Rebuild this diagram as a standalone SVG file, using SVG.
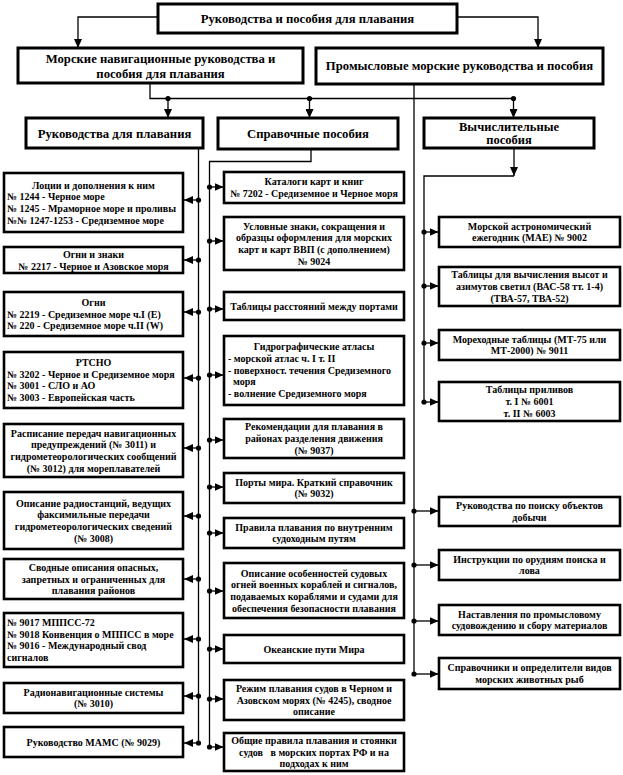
<svg xmlns="http://www.w3.org/2000/svg" width="623" height="775" viewBox="0 0 623 775">
<defs>
<marker id="arr" markerUnits="userSpaceOnUse" markerWidth="9" markerHeight="8" refX="9" refY="4" orient="auto">
<path d="M0,0 L9,4 L0,8 z" fill="#000"/>
</marker>
<style>
.b{fill:#fff;stroke:#000;stroke-width:2.6}
.h{fill:#fff;stroke:#000;stroke-width:3}
text{font-family:"Liberation Serif","Times New Roman",serif;font-weight:bold;fill:#000}
.t{font-size:12.7px;text-anchor:middle}
.s{font-size:10px}
.c{text-anchor:middle}
.l{text-anchor:start}
.ln{fill:none;stroke:#000;stroke-width:1.3}
.d{fill:#000}
</style>
</defs>
<rect width="623" height="775" fill="#fff"/>

<g id="connectors">
<path class="ln" d="M158,17 H78 V48" marker-end="url(#arr)"/>
<path class="ln" d="M457,17 H538 V48" marker-end="url(#arr)"/>
<path class="ln" d="M150,83 V98.5 H513.5"/>
<path class="ln" d="M168,98.5 V118" marker-end="url(#arr)"/>
<path class="ln" d="M309.5,98.5 V118" marker-end="url(#arr)"/>
<path class="ln" d="M513.5,98.5 V118" marker-end="url(#arr)"/>
<circle class="d" cx="168" cy="98.5" r="2.6"/>
<circle class="d" cx="309.5" cy="98.5" r="2.6"/>
<circle class="d" cx="513.5" cy="98.5" r="2.6"/>
<!-- left column -->
<path class="ln" d="M198.5,148 V743"/>
<g class="ln" marker-end="url(#arr)">
<path d="M198.5,200 H184"/>
<path d="M198.5,260 H184"/>
<path d="M198.5,312 H184"/>
<path d="M198.5,378 H184"/>
<path d="M198.5,448 H184"/>
<path d="M198.5,516 H184"/>
<path d="M198.5,579 H184"/>
<path d="M198.5,639 H184"/>
<path d="M198.5,696 H184"/>
<path d="M198.5,743 H184"/>
</g>
<g class="d">
<circle cx="198.5" cy="200" r="2.6"/><circle cx="198.5" cy="260" r="2.6"/><circle cx="198.5" cy="312" r="2.6"/><circle cx="198.5" cy="378" r="2.6"/><circle cx="198.5" cy="448" r="2.6"/><circle cx="198.5" cy="516" r="2.6"/><circle cx="198.5" cy="579" r="2.6"/><circle cx="198.5" cy="639" r="2.6"/><circle cx="198.5" cy="696" r="2.6"/><circle cx="198.5" cy="743" r="2.6"/>
</g>
<!-- middle column -->
<path class="ln" d="M311,149 V161.5 H209.5 V747"/>
<g class="ln" marker-end="url(#arr)">
<path d="M209.5,187 H223.5"/>
<path d="M209.5,241 H223.5"/>
<path d="M209.5,309 H223.5"/>
<path d="M209.5,375 H223.5"/>
<path d="M209.5,440 H223.5"/>
<path d="M209.5,487 H223.5"/>
<path d="M209.5,533 H223.5"/>
<path d="M209.5,591 H223.5"/>
<path d="M209.5,649 H223.5"/>
<path d="M209.5,699 H223.5"/>
<path d="M209.5,747 H223.5"/>
</g>
<g class="d">
<circle cx="209.5" cy="187" r="2.6"/><circle cx="209.5" cy="241" r="2.6"/><circle cx="209.5" cy="309" r="2.6"/><circle cx="209.5" cy="375" r="2.6"/><circle cx="209.5" cy="440" r="2.6"/><circle cx="209.5" cy="487" r="2.6"/><circle cx="209.5" cy="533" r="2.6"/><circle cx="209.5" cy="591" r="2.6"/><circle cx="209.5" cy="649" r="2.6"/><circle cx="209.5" cy="699" r="2.6"/><circle cx="209.5" cy="747" r="2.6"/>
</g>
<!-- computational -->
<path class="ln" d="M514,148 V176" marker-end="url(#arr)"/>
<path class="ln" d="M514,176 H424 V402"/>
<g class="ln" marker-end="url(#arr)">
<path d="M424,232 H438.5"/>
<path d="M424,286 H438.5"/>
<path d="M424,343 H438.5"/>
<path d="M424,402 H438.5"/>
</g>
<g class="d">
<circle cx="424" cy="232" r="2.6"/><circle cx="424" cy="286" r="2.6"/><circle cx="424" cy="343" r="2.6"/><circle cx="424" cy="402" r="2.6"/>
</g>
<!-- fishing -->
<path class="ln" d="M414,84 V674"/>
<g class="ln" marker-end="url(#arr)">
<path d="M414,511 H438.5"/>
<path d="M414,565 H438.5"/>
<path d="M414,621 H438.5"/>
<path d="M414,674 H438.5"/>
</g>
<g class="d">
<circle cx="414" cy="511" r="2.6"/><circle cx="414" cy="565" r="2.6"/><circle cx="414" cy="621" r="2.6"/><circle cx="414" cy="674" r="2.6"/>
</g>
</g>

<!-- header nodes -->
<g id="n-root"><rect class="h" x="158" y="4" width="299" height="29"/><text class="t" x="307.5" y="23">Руководства и пособия для плавания</text></g>
<g id="n-nav"><rect class="h" x="18" y="48" width="285" height="35"/><text class="t" x="160.5" y="62.5">Морские навигационные руководства и</text><text class="t" x="160.5" y="77.5">пособия для плавания</text></g>
<g id="n-fish"><rect class="h" x="316" y="48" width="287" height="36"/><text class="t" x="459.5" y="70">Промысловые морские руководства и пособия</text></g>
<g id="n-guides"><rect class="h" x="26" y="118" width="177" height="30"/><text class="t" x="114.5" y="137.5">Руководства для плавания</text></g>
<g id="n-ref"><rect class="h" x="218" y="118" width="180" height="31"/><text class="t" x="308" y="138">Справочные пособия</text></g>
<g id="n-calc"><rect class="h" x="424" y="118" width="170" height="30"/><text class="t" x="509" y="131" style="font-size:12.5px">Вычислительные</text><text class="t" x="509" y="144" style="font-size:12.5px">пособия</text></g>

<!-- left column nodes -->
<g id="n-l1"><rect class="b" x="4" y="173" width="179" height="59"/>
<text class="s c" x="93.5" y="188.5">Лоции и дополнения к ним</text>
<text class="s l" x="7" y="200.2">№ 1244 - Черное море</text>
<text class="s l" x="7" y="211.9">№ 1245 - Мраморное море и проливы</text>
<text class="s l" x="7" y="223.6">№№ 1247-1253 - Средиземное море</text></g>
<g id="n-l2"><rect class="b" x="4" y="247" width="179" height="26"/>
<text class="s c" x="93.5" y="258">Огни и знаки</text>
<text class="s c" x="93.5" y="269.7">№ 2217 - Черное и Азовское моря</text></g>
<g id="n-l3"><rect class="b" x="4" y="292" width="179" height="44"/>
<text class="s c" x="93.5" y="305.8">Огни</text>
<text class="s l" x="7" y="317.5">№ 2219 - Средиземное море ч.I (E)</text>
<text class="s l" x="7" y="329.2">№ 220 - Средиземное море ч.II (W)</text></g>
<g id="n-l4"><rect class="b" x="4" y="352" width="179" height="56"/>
<text class="s c" x="93.5" y="365.9">РТСНО</text>
<text class="s l" x="7" y="377.6">№ 3202 - Черное и Средиземное моря</text>
<text class="s l" x="7" y="389.3">№ 3001 - СЛО и АО</text>
<text class="s l" x="7" y="401">№ 3003 - Европейская часть</text></g>
<g id="n-l5"><rect class="b" x="4" y="424" width="179" height="53"/>
<text class="s c" x="93.5" y="436.5">Расписание передач навигационных</text>
<text class="s c" x="93.5" y="448.2">предупреждений (№ 3011) и</text>
<text class="s c" x="93.5" y="459.9">гидрометеорологических сообщений</text>
<text class="s c" x="93.5" y="471.6">(№ 3012) для мореплавателей</text></g>
<g id="n-l6"><rect class="b" x="4" y="492" width="179" height="57"/>
<text class="s c" x="93.5" y="506.5">Описание радиостанций, ведущих</text>
<text class="s c" x="93.5" y="518.2">факсимильные передачи</text>
<text class="s c" x="93.5" y="529.9">гидрометеорологических сведений</text>
<text class="s c" x="93.5" y="541.6">(№ 3008)</text></g>
<g id="n-l7"><rect class="b" x="4" y="559" width="179" height="40"/>
<text class="s c" x="93.5" y="570.8">Сводные описания опасных,</text>
<text class="s c" x="93.5" y="582.5">запретных и ограниченных для</text>
<text class="s c" x="93.5" y="594.2">плавания районов</text></g>
<g id="n-l8"><rect class="b" x="4" y="613" width="179" height="54"/>
<text class="s l" x="7" y="626">№ 9017 МППСС-72</text>
<text class="s l" x="7" y="637.7">№ 9018 Конвенция о МППСС в море</text>
<text class="s l" x="7" y="649.4">№ 9016 - Международный свод</text>
<text class="s l" x="7" y="661.1">сигналов</text></g>
<g id="n-l9"><rect class="b" x="4" y="683" width="179" height="30"/>
<text class="s c" x="93.5" y="695.6">Радионавигационные системы</text>
<text class="s c" x="93.5" y="707.3">(№ 3010)</text></g>
<g id="n-l10"><rect class="b" x="4" y="727" width="179" height="30"/>
<text class="s c" x="93.5" y="745.5">Руководство МАМС (№ 9029)</text></g>

<!-- middle column nodes -->
<g id="n-m1"><rect class="b" x="224" y="172" width="180" height="31"/>
<text class="s c" x="314" y="185.2">Каталоги карт и книг</text>
<text class="s c" x="314" y="196.9">№ 7202 - Средиземное и Черное моря</text></g>
<g id="n-m2"><rect class="b" x="224" y="217" width="180" height="53"/>
<text class="s c" x="314" y="229.5">Условные знаки, сокращения и</text>
<text class="s c" x="314" y="241.2">образцы оформления для морских</text>
<text class="s c" x="314" y="252.9">карт и карт ВВП (с дополнением)</text>
<text class="s c" x="314" y="264.6">№ 9024</text></g>
<g id="n-m3"><rect class="b" x="224" y="292" width="180" height="28"/>
<text class="s c" x="314" y="309.5">Таблицы расстояний между портами</text></g>
<g id="n-m4"><rect class="b" x="224" y="336" width="180" height="69"/>
<text class="s c" x="314" y="350.1">Гидрографические атласы</text>
<text class="s l" x="228" y="361.8">- морской атлас ч. I т. II</text>
<text class="s l" x="228" y="373.5">- поверхност. течения Средиземного</text>
<text class="s l" x="233" y="385.2">моря</text>
<text class="s l" x="228" y="396.9">- волнение Средиземного моря</text></g>
<g id="n-m5"><rect class="b" x="224" y="419" width="180" height="39"/>
<text class="s c" x="314" y="430.3">Рекомендации для плавания в</text>
<text class="s c" x="314" y="442">районах разделения движения</text>
<text class="s c" x="314" y="453.7">(№ 9037)</text></g>
<g id="n-m6"><rect class="b" x="224" y="473" width="180" height="30"/>
<text class="s c" x="314" y="485.6">Порты мира. Краткий справочник</text>
<text class="s c" x="314" y="497.3">(№ 9032)</text></g>
<g id="n-m7"><rect class="b" x="224" y="518" width="180" height="30"/>
<text class="s c" x="314" y="530.6">Правила плавания по внутренним</text>
<text class="s c" x="314" y="542.3">судоходным путям</text></g>
<g id="n-m8"><rect class="b" x="224" y="563" width="180" height="55"/>
<text class="s c" x="314" y="576.5">Описание особенностей судовых</text>
<text class="s c" x="314" y="588.2">огней военных кораблей и сигналов,</text>
<text class="s c" x="314" y="599.9">подаваемых кораблями и судами для</text>
<text class="s c" x="314" y="611.6">обеспечения безопасности плавания</text></g>
<g id="n-m9"><rect class="b" x="224" y="635" width="180" height="28"/>
<text class="s c" x="314" y="652.5">Океанские пути Мира</text></g>
<g id="n-m10"><rect class="b" x="224" y="680" width="180" height="40"/>
<text class="s c" x="314" y="691.8">Режим плавания судов в Черном и</text>
<text class="s c" x="314" y="703.5">Азовском морях (№ 4245), сводное</text>
<text class="s c" x="314" y="715.2">описание</text></g>
<g id="n-m11"><rect class="b" x="224" y="733" width="180" height="38"/>
<text class="s c" x="314" y="743.8">Общие правила плавания и стоянки</text>
<text class="s c" x="314" y="755.5" xml:space="preserve">судов   в морских портах РФ и на</text>
<text class="s c" x="314" y="767.2">подходах к ним</text></g>

<!-- right column nodes -->
<g id="n-r1"><rect class="b" x="439" y="217" width="181" height="30"/>
<text class="s c" x="529.5" y="229.6">Морской астрономический</text>
<text class="s c" x="529.5" y="241.3">ежегодник (МАЕ) № 9002</text></g>
<g id="n-r2"><rect class="b" x="439" y="267" width="181" height="39"/>
<text class="s c" x="529.5" y="278.3">Таблицы для вычисления высот и</text>
<text class="s c" x="529.5" y="290">азимутов светил (ВАС-58 тт. 1-4)</text>
<text class="s c" x="529.5" y="301.7">(ТВА-57, ТВА-52)</text></g>
<g id="n-r3"><rect class="b" x="439" y="330" width="181" height="30"/>
<text class="s c" x="529.5" y="342.6">Мореходные таблицы (МТ-75 или</text>
<text class="s c" x="529.5" y="354.3">МТ-2000) № 9011</text></g>
<g id="n-r4"><rect class="b" x="439" y="382" width="181" height="39"/>
<text class="s c" x="529.5" y="393.3">Таблицы приливов</text>
<text class="s c" x="529.5" y="405">т. I № 6001</text>
<text class="s c" x="529.5" y="416.7">т. II № 6003</text></g>
<g id="n-r5"><rect class="b" x="439" y="497" width="181" height="29"/>
<text class="s c" x="529.5" y="509.1">Руководства по поиску объектов</text>
<text class="s c" x="529.5" y="520.8">добычи</text></g>
<g id="n-r6"><rect class="b" x="439" y="550" width="181" height="30"/>
<text class="s c" x="529.5" y="562.6">Инструкции по орудиям поиска и</text>
<text class="s c" x="529.5" y="574.3">лова</text></g>
<g id="n-r7"><rect class="b" x="439" y="605" width="181" height="30"/>
<text class="s c" x="529.5" y="617.6">Наставления по промысловому</text>
<text class="s c" x="529.5" y="629.3">судовождению и сбору материалов</text></g>
<g id="n-r8"><rect class="b" x="439" y="658" width="181" height="31"/>
<text class="s c" x="529.5" y="671.1">Справочники и определители видов</text>
<text class="s c" x="529.5" y="682.8">морских животных рыб</text></g>
</svg>
